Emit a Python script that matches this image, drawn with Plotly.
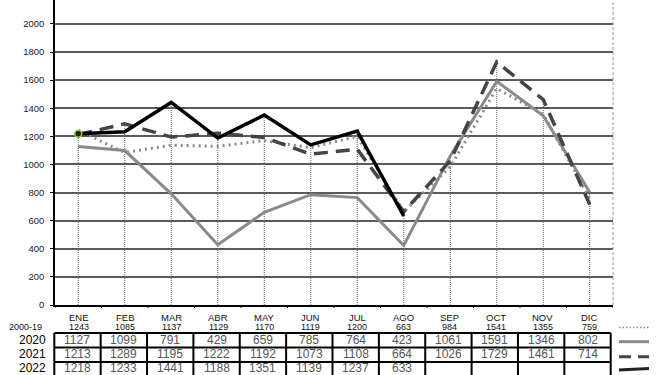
import plotly.graph_objects as go

months = ["ENE", "FEB", "MAR", "ABR", "MAY", "JUN", "JUL", "AGO", "SEP", "OCT", "NOV", "DIC"]
avg_2000_19 = [1243, 1085, 1137, 1129, 1170, 1119, 1200, 663, 984, 1541, 1355, 759]
y2020 = [1127, 1099, 791, 429, 659, 785, 764, 423, 1061, 1591, 1346, 802]
y2021 = [1213, 1289, 1195, 1222, 1192, 1073, 1108, 664, 1026, 1729, 1461, 714]
y2022 = [1218, 1233, 1441, 1188, 1351, 1139, 1237, 633]
row_labels = ["2020", "2021", "2022"]

W, H = 672, 375
L, R, T, B = 55, 59, 0, 70
PW = W - L - R
PH = H - T - B
FONT = "Liberation Sans, Arial, sans-serif"


def px_x(px):
    return (px - L) / PW


def px_y(py):
    return (PH + T - py) / PH


# drop lines: from axis up to the highest value of each month
all_series = [avg_2000_19, y2020, y2021, y2022]
drop_x, drop_y = [], []
for i, m in enumerate(months):
    top = max(s[i] for s in all_series if i < len(s))
    drop_x += [m, m, None]
    drop_y += [0, top, None]

fig = go.Figure()
fig.add_trace(go.Scatter(x=drop_x, y=drop_y, mode="lines", showlegend=False, hoverinfo="skip",
                         line=dict(color="#666", width=1, dash="1px,1px")))
fig.add_trace(go.Scatter(x=months, y=avg_2000_19, mode="lines", name="2000-19",
                         line=dict(color="#8a8a8a", width=3, dash="2px,4px")))
fig.add_trace(go.Scatter(x=months, y=y2020, mode="lines", name="2020",
                         line=dict(color="#8a8a8a", width=3)))
fig.add_trace(go.Scatter(x=months, y=y2021, mode="lines", name="2021",
                         line=dict(color="#444444", width=3.5, dash="14px,8px")))
fig.add_trace(go.Scatter(x=months[:len(y2022)], y=y2022, mode="lines", name="2022",
                         line=dict(color="#000000", width=3.5)))
fig.add_trace(go.Scatter(x=[months[0]], y=[y2022[0]], mode="markers", showlegend=False,
                         marker=dict(size=7, color="#222", line=dict(color="#9acd32", width=1.5))))

shapes = []
annotations = []

# right dashed border
shapes.append(dict(type="line", xref="paper", yref="paper", x0=1, x1=1, y0=0, y1=1,
                   line=dict(color="#999", width=1, dash="3px,2px")))
# x-axis boundary ticks
for k in range(13):
    shapes.append(dict(type="line", xref="x", yref="paper", x0=k - 0.5, x1=k - 0.5,
                       y0=0, y1=px_y(PH + T + 3), line=dict(color="#000", width=1)))

# table geometry
tbl_left, tbl_right = 54.3, 610.7
col_w = (tbl_right - tbl_left) / 12
row_tops = [333, 347.5, 362, 378]
for py in row_tops:
    shapes.append(dict(type="line", xref="paper", yref="paper", x0=px_x(tbl_left), x1=px_x(tbl_right),
                       y0=px_y(py), y1=px_y(py), line=dict(color="#000", width=2)))
for k in range(13):
    xx = px_x(tbl_left + k * col_w)
    shapes.append(dict(type="line", xref="paper", yref="paper", x0=xx, x1=xx,
                       y0=px_y(row_tops[0]), y1=px_y(row_tops[-1]), line=dict(color="#000", width=2)))

# month names and 2000-19 values
for i, m in enumerate(months):
    cx = px_x(tbl_left + (i + 0.5) * col_w + 1.5)
    annotations.append(dict(x=cx, y=px_y(317), xref="paper", yref="paper", text=m, showarrow=False,
                            font=dict(size=9.5, color="#111", family=FONT), xanchor="center", yanchor="middle"))
    annotations.append(dict(x=cx, y=px_y(327), xref="paper", yref="paper", text=str(avg_2000_19[i]),
                            showarrow=False, font=dict(size=9, color="#111", family=FONT),
                            xanchor="center", yanchor="middle"))
annotations.append(dict(x=px_x(25.5), y=px_y(327), xref="paper", yref="paper", text="2000-19",
                        showarrow=False, font=dict(size=9, color="#111", family=FONT),
                        xanchor="center", yanchor="middle"))

series_rows = [y2020, y2021, y2022]
row_centers = [340, 354, 368]
for r, (lab, vals) in enumerate(zip(row_labels, series_rows)):
    cy = px_y(row_centers[r])
    annotations.append(dict(x=px_x(32), y=cy, xref="paper", yref="paper", text=lab, showarrow=False,
                            font=dict(size=12, color="#000", family=FONT), xanchor="center", yanchor="middle"))
    for i, v in enumerate(vals):
        cx = px_x(tbl_left + (i + 0.5) * col_w)
        annotations.append(dict(x=cx, y=cy, xref="paper", yref="paper", text=str(v), showarrow=False,
                                font=dict(size=12, color="#555", family=FONT),
                                xanchor="center", yanchor="middle"))

# legend samples at right
lx0, lx1 = px_x(619), px_x(649)
shapes.append(dict(type="line", xref="paper", yref="paper", x0=lx0, x1=lx1, y0=px_y(327.5), y1=px_y(327.5),
                   line=dict(color="#8a8a8a", width=1.5, dash="1.5px,2px")))
shapes.append(dict(type="line", xref="paper", yref="paper", x0=lx0, x1=lx1, y0=px_y(341.7), y1=px_y(341.7),
                   line=dict(color="#8a8a8a", width=3)))
shapes.append(dict(type="line", xref="paper", yref="paper", x0=lx0, x1=lx1, y0=px_y(356.7), y1=px_y(356.7),
                   line=dict(color="#444", width=3, dash="12px,7px")))
shapes.append(dict(type="line", xref="paper", yref="paper", x0=lx0, x1=lx1, y0=px_y(370), y1=px_y(368.5),
                   line=dict(color="#222", width=3)))

fig.update_layout(
    width=W, height=H,
    margin=dict(l=L, r=R, t=T, b=B),
    paper_bgcolor="white", plot_bgcolor="white",
    showlegend=False,
    shapes=shapes, annotations=annotations,
    font=dict(family=FONT),
    xaxis=dict(type="category", range=[-0.5, 11.5], showgrid=False, showticklabels=False, ticks="",
               showline=True, linecolor="#000", linewidth=1.5, zeroline=False, fixedrange=True),
    yaxis=dict(range=[0, 2170], dtick=200, tick0=0, showgrid=True, gridcolor="#5a5a5a", gridwidth=1.5,
               ticks="outside", ticklen=3, tickcolor="#000", ticklabelstandoff=4,
               tickfont=dict(size=9.5, color="#222", family=FONT),
               showline=True, linecolor="#000", linewidth=1.5, zeroline=False, fixedrange=True),
)

fig.write_html("out.html", config={"displayModeBar": False},
               post_script="document.body.style.margin='0';document.body.style.overflow='hidden';")
